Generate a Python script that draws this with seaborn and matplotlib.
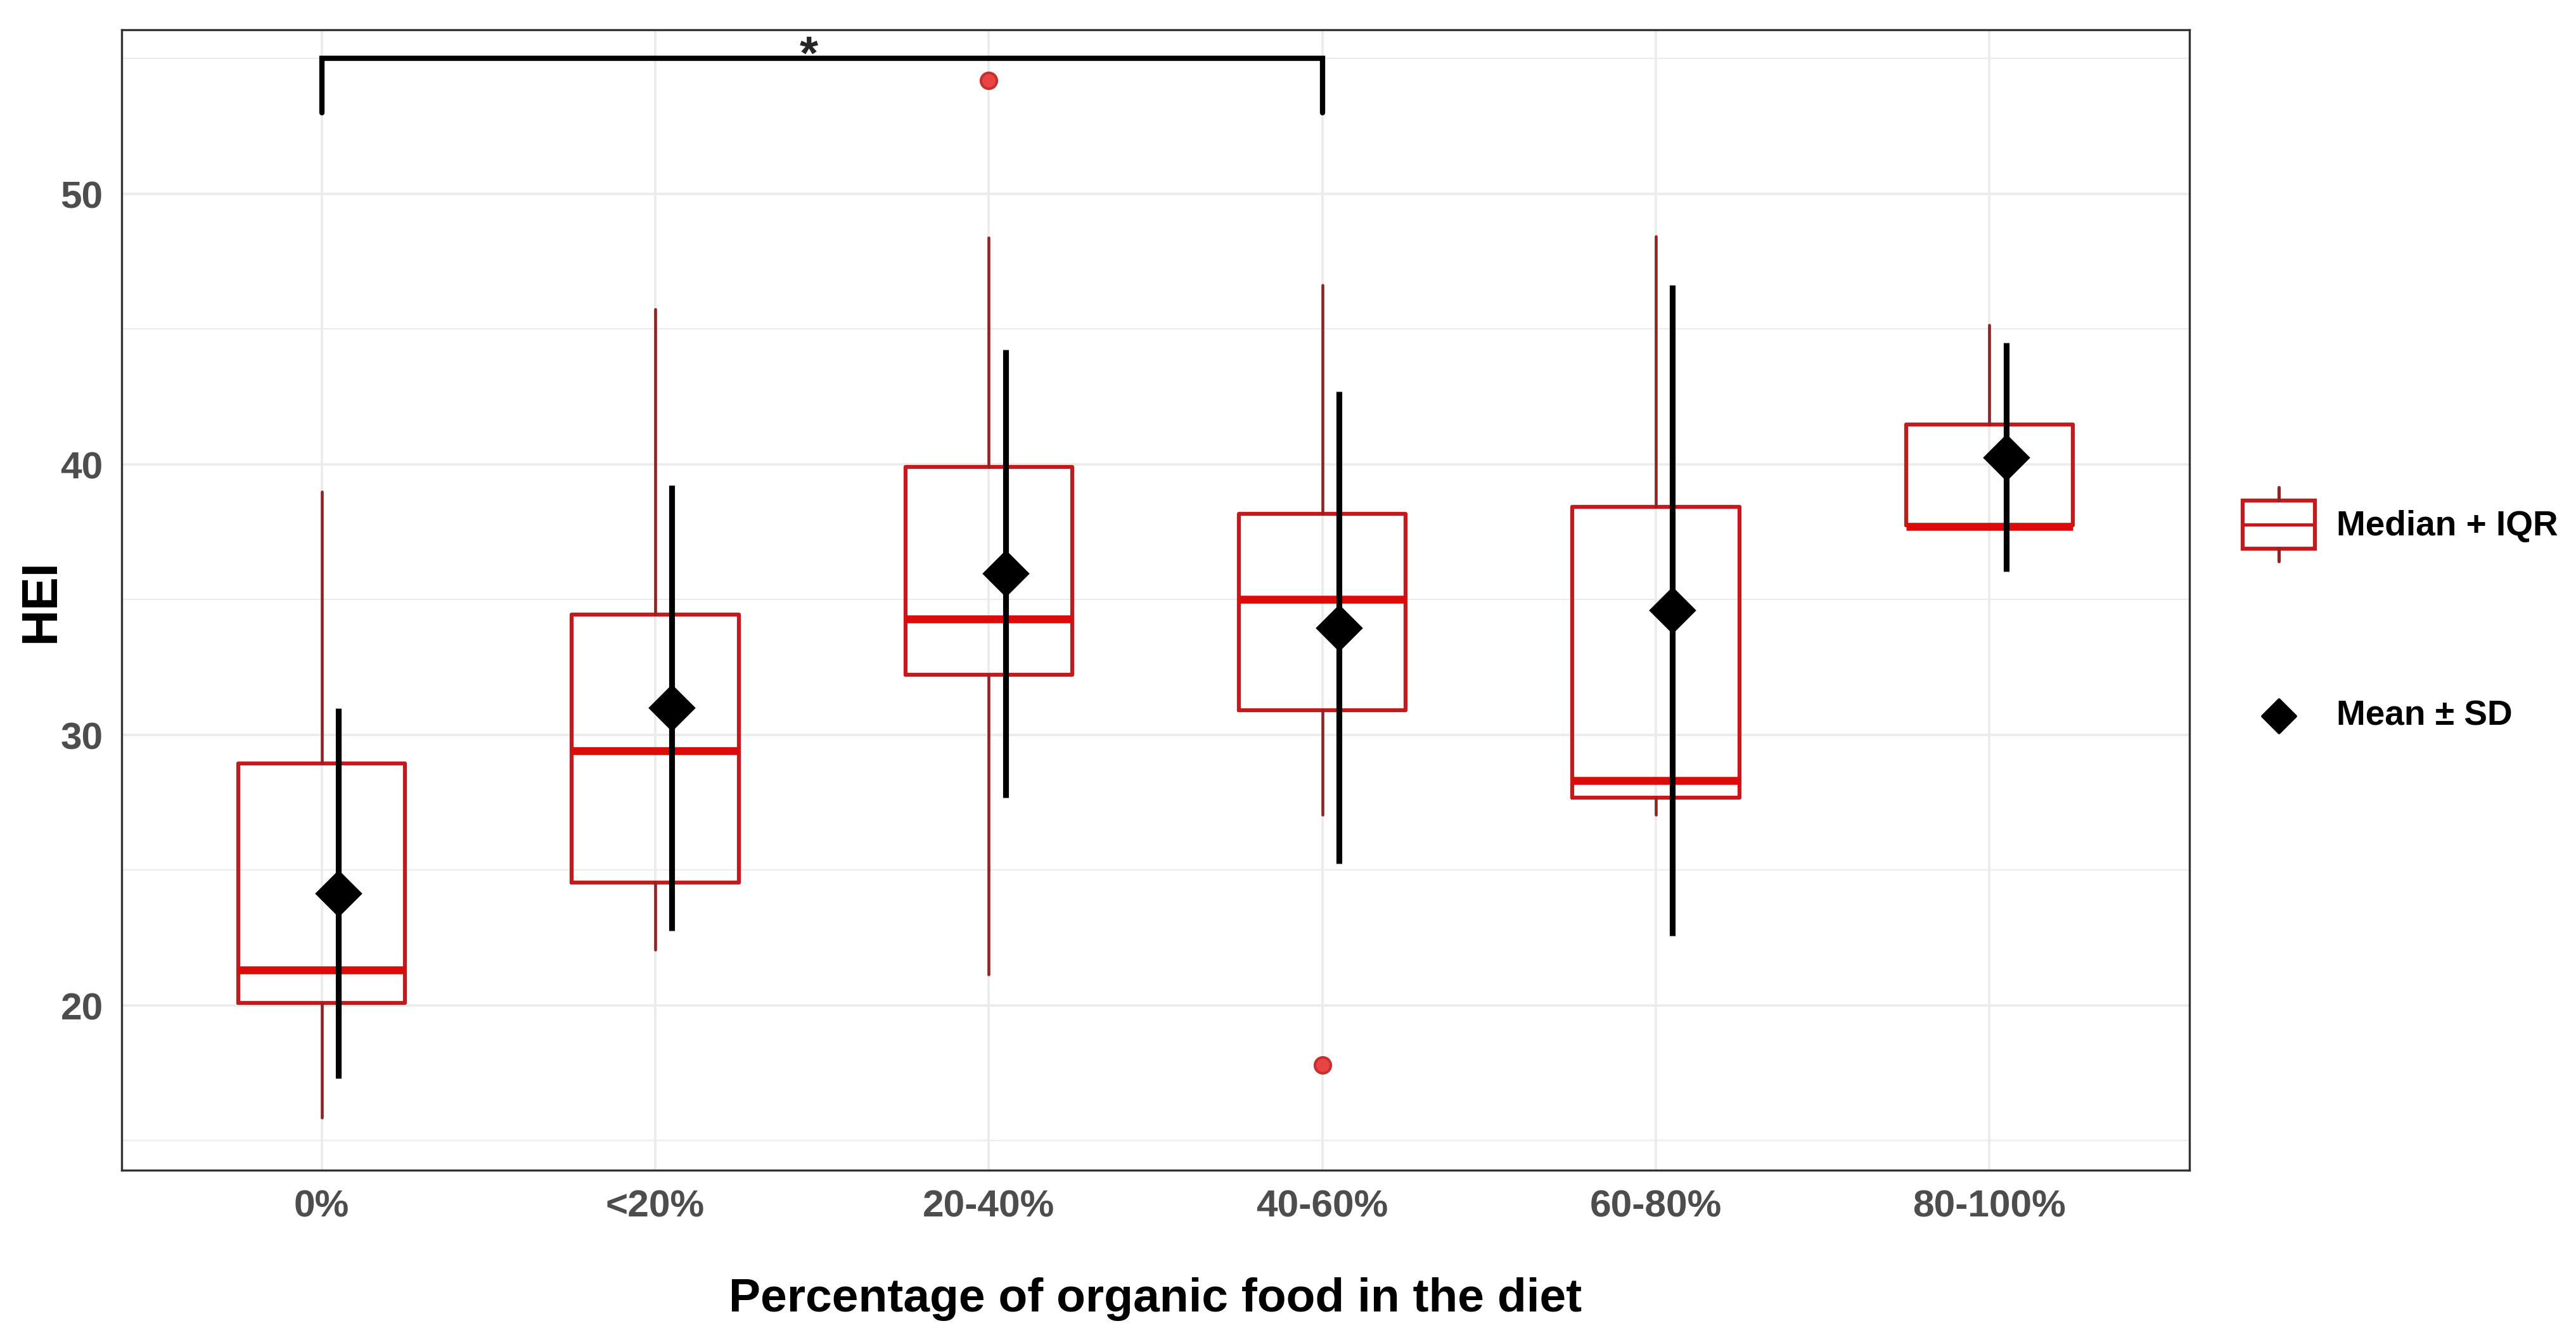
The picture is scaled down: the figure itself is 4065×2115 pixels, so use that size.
import matplotlib
matplotlib.use("Agg")
import matplotlib.pyplot as plt
from matplotlib.patches import Rectangle
import seaborn as sns
import numpy as np

# values
groups = ["0%", "<20%", "20-40%", "40-60%", "60-80%", "80-100%"]
q1 = [20.10, 24.55, 32.22, 30.92, 27.67, 37.75]
median = [21.30, 29.42, 34.29, 35.00, 28.30, 37.70]
q3 = [28.94, 34.45, 39.91, 38.16, 38.43, 41.47]
whisk_lo = [15.85, 22.05, 21.15, 27.05, 27.05, 37.75]
whisk_hi = [38.99, 45.74, 48.38, 46.63, 48.43, 45.15]
outliers = [[], [], [54.2], [17.8], [], []]
mean = [24.15, 31.00, 35.96, 33.96, 34.60, 40.26]
sd = [6.84, 8.23, 8.27, 8.72, 12.03, 4.23]

sig_pair = (0, 3)
sig_y = 55.0
sig_drop = 53.0

main_font = ["Liberation Sans", "DejaVu Sans"]

sns.set_theme(style="white")
plt.rcParams["font.family"] = main_font
plt.rcParams["font.weight"] = "bold"

box_red = "#C41A1E"
whisk_red = "#8E2424"
med_red = "#DD0A0A"

fig = plt.figure(figsize=(13.55, 7.053), dpi=300)
ax = fig.add_axes([0.0472, 0.1265, 0.8028, 0.851])

pos = np.arange(len(groups))
stats = []
for i in range(len(groups)):
    stats.append(dict(med=median[i], q1=q1[i], q3=q3[i],
                      whislo=whisk_lo[i], whishi=whisk_hi[i],
                      fliers=outliers[i]))

ax.bxp(stats, positions=pos, widths=0.5, showcaps=False,
       boxprops=dict(color=box_red, linewidth=1.5),
       whiskerprops=dict(color=whisk_red, linewidth=1.1),
       medianprops=dict(color=med_red, linewidth=3.0, solid_capstyle="butt"),
       flierprops=dict(marker="o", markerfacecolor="#E84444",
                       markeredgecolor="#C83030", markersize=6))

# mean +/- SD
xm = pos + 0.05
ax.vlines(xm, np.array(mean) - np.array(sd), np.array(mean) + np.array(sd),
          color="black", linewidth=2.2, zorder=4)
sns.scatterplot(x=xm, y=mean, marker="D", s=160, color="black",
                edgecolor="black", linewidth=0, zorder=5, ax=ax, legend=False)

# significance bracket
ax.plot([sig_pair[0], sig_pair[0], sig_pair[1], sig_pair[1]],
        [sig_drop, sig_y, sig_y, sig_drop], color="black", linewidth=2.0,
        solid_joinstyle="miter", zorder=4)
ax.text(np.mean(sig_pair) - 0.04, 54.65, "*", ha="center", va="baseline",
        fontsize=18, fontweight="bold")

ax.set_xlim(-0.6, 5.6)
ax.set_ylim(13.9, 56.07)
ax.set_xticks(pos)
ax.set_xticklabels(groups)
ax.set_yticks([20, 30, 40, 50])
ax.set_yticks([15, 25, 35, 45, 55], minor=True)
ax.grid(which="major", color="#EBEBEB", linewidth=0.9)
ax.grid(which="minor", axis="y", color="#EBEBEB", linewidth=0.5)
ax.set_axisbelow(True)
for s in ax.spines.values():
    s.set_color("#333333")
    s.set_linewidth(0.8)
ax.tick_params(axis="both", which="major", length=4, width=0.8, color="#333333",
               labelsize=14.5, labelcolor="#4D4D4D", pad=3)
ax.tick_params(axis="both", which="minor", length=0)
for lab in ax.get_xticklabels() + ax.get_yticklabels():
    lab.set_fontweight("bold")

ax.set_xlabel("Percentage of organic food in the diet", fontsize=18,
              fontweight="bold", color="black", labelpad=20)
ax.set_ylabel("")
fig.text(0.016, 0.552, "HEI", rotation=90, fontsize=19, fontweight="bold",
         ha="center", va="center", color="black")

# legend drawn by hand
lg = fig.add_axes([0.858, 0.42, 0.14, 0.24])
lg.set_xlim(0, 1)
lg.set_ylim(0, 1)
lg.axis("off")
lg.add_patch(Rectangle((0.09, 0.71), 0.2, 0.15, fill=False,
                       edgecolor=box_red, linewidth=1.5))
lg.plot([0.09, 0.29], [0.785, 0.785], color=box_red, linewidth=1.2)
lg.plot([0.19, 0.19], [0.86, 0.90], color=whisk_red, linewidth=1.2)
lg.plot([0.19, 0.19], [0.67, 0.71], color=whisk_red, linewidth=1.2)
lg.text(0.35, 0.78, "Median + IQR", fontsize=13.2, fontweight="bold",
        va="center", ha="left", color="black")
lg.scatter([0.19], [0.19], marker="D", s=80, color="black")
lg.text(0.35, 0.19, "Mean \u00b1 SD", fontsize=13.2, fontweight="bold",
        va="center", ha="left", color="black")

fig.savefig("out.png", dpi=300)
